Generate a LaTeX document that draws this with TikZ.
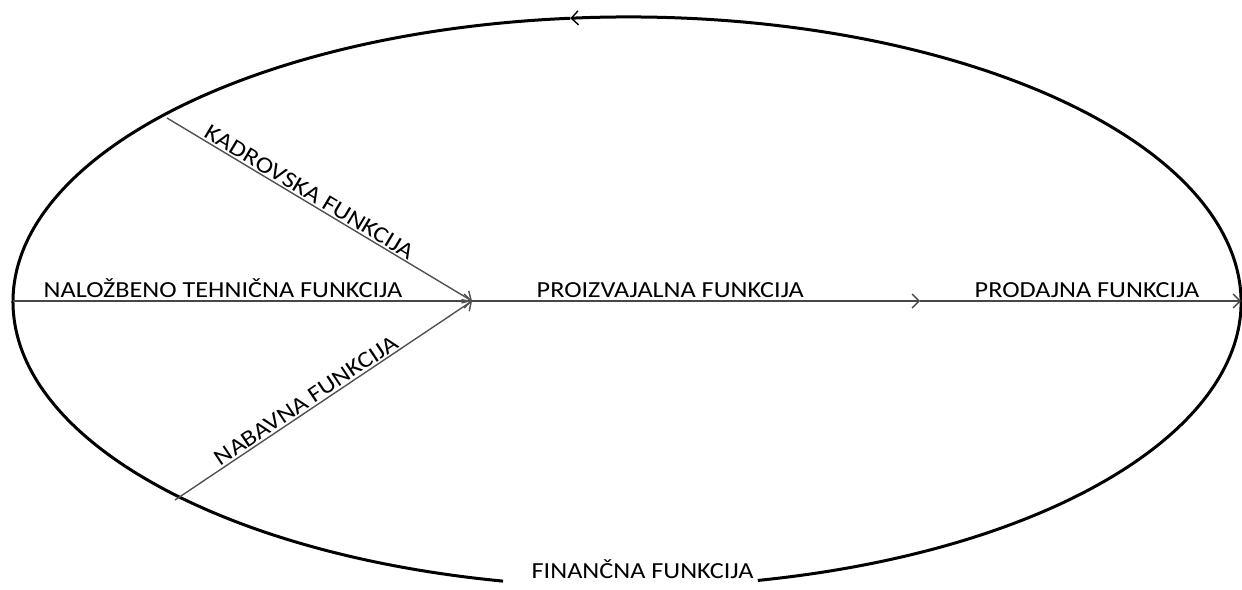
\documentclass[tikz,border=0pt]{standalone}
\usepackage{fontspec}
\setmainfont{Carlito}[FakeStretch=1.14]
\usetikzlibrary{arrows.meta}
\begin{document}
\begin{tikzpicture}[x=1pt,y=-1pt,
  ell/.style={line width=3pt,black},
  axis/.style={line width=2.6pt,black!72},
  diag/.style={line width=1.4pt,black!68},
  tip/.style={-{Straight Barb[length=7pt,width=14pt,line width=1.4pt]}},
  lbl/.style={font=\fontsize{23}{27}\selectfont,inner sep=1.5pt,text=black}]
\useasboundingbox (0,0) rectangle (1242,589);
\coordinate (C) at (627,302);
\coordinate (L) at (13,301);
\coordinate (M) at (472,301);
\coordinate (P) at (920,301);
\coordinate (R) at (1241,301);
\coordinate (K) at (167,118);
\coordinate (N) at (175,500);
% ellipse with gap at the bottom and arrow on top
\draw[ell,tip] (C) ++(437.7:614 and 285) arc[start angle=437.7,end angle=264.7,x radius=614,y radius=285];
\draw[ell] (C) ++(264.7:614 and 285) arc[start angle=264.7,end angle=101.65,x radius=614,y radius=285];
% horizontal axis
\draw[axis,tip] (L) -- (M);
\draw[axis,tip] (M) -- (P);
\draw[axis,tip] (P) -- (R);
% diagonals
\draw[diag,tip] (K) -- node[lbl,sloped,above,pos=0.45] (kad) {KADROVSKA FUNKCIJA} (M);
\draw[diag,tip] (N) -- node[lbl,sloped,above,pos=0.46] (nab) {NABAVNA FUNKCIJA} (M);
% labels
\node[lbl,anchor=base west] (nal) at (42,297) {NALOŽBENO TEHNIČNA FUNKCIJA};
\node[lbl,anchor=base west] (pro) at (535,297) {PROIZVAJALNA FUNKCIJA};
\node[lbl,anchor=base west] (prod) at (973,297) {PRODAJNA FUNKCIJA};
\node[lbl,anchor=base west] (fin) at (530,578) {FINANČNA FUNKCIJA};
\end{tikzpicture}
\end{document}
